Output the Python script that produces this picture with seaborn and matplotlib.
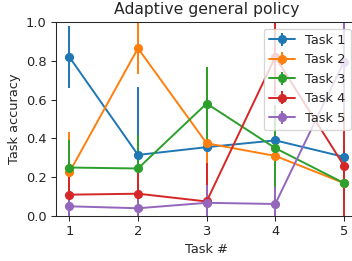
import matplotlib
matplotlib.use("Agg")
import matplotlib.pyplot as plt
import seaborn as sns

task_ids = [1, 2, 3, 4, 5]
series_names = ["Task 1", "Task 2", "Task 3", "Task 4", "Task 5"]

task1_acc = [0.82, 0.315, 0.355, 0.39, 0.305]
task2_acc = [0.225, 0.865, 0.375, 0.31, 0.17]
task3_acc = [0.25, 0.245, 0.58, 0.35, 0.17]
task4_acc = [0.11, 0.115, 0.075, 0.82, 0.26]
task5_acc = [0.05, 0.04, 0.068, 0.062, 0.795]

task1_err = [0.16, 0.35, 0.1, 0.1, 0.05]
task2_err = [0.21, 0.135, 0.39, 0.15, 0.1]
task3_err = [0.14, 0.175, 0.19, 0.22, 0.1]
task4_err = [0.12, 0.13, 0.2, 0.2, 0.52]
task5_err = [0.06, 0.05, 0.09, 0.085, 0.25]

accs = [task1_acc, task2_acc, task3_acc, task4_acc, task5_acc]
errs = [task1_err, task2_err, task3_err, task4_err, task5_err]

sns.set_style("ticks")
plt.rcParams["font.family"] = ["DejaVu Sans"]
palette = sns.color_palette("tab10", len(series_names))

dpi = 94
fig = plt.figure(figsize=(352 / dpi, 261 / dpi), dpi=dpi)
ax = fig.add_axes([0.158, 0.1724, 0.858, 0.743])

for name, acc, err, color in zip(series_names, accs, errs, palette):
    ax.errorbar(task_ids, acc, yerr=err, marker="o", color=color, label=name)

ax.set_ylim(0, 1)
ax.set_xticks(task_ids)
ax.set_title("Adaptive general policy")
ax.set_xlabel("Task #")
ax.set_ylabel("Task accuracy")
ax.legend(loc="upper right")

fig.savefig("out.png", dpi=dpi)
